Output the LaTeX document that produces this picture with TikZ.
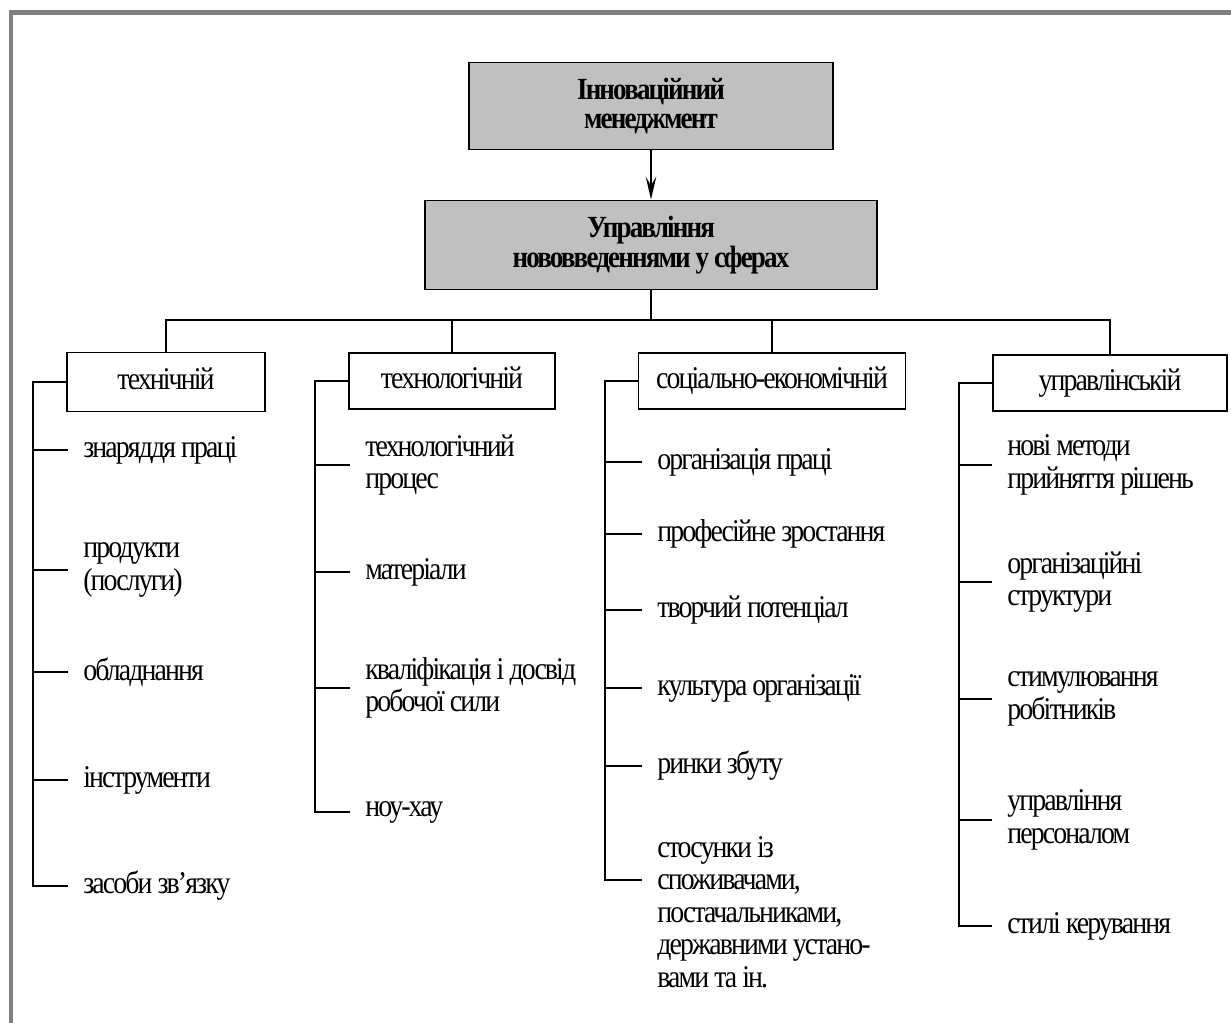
\documentclass[tikz,border=0pt]{standalone}
\usepackage{fontspec}
\setmainfont{Liberation Serif}[FakeStretch=0.88, LetterSpace=-6.0]
\usetikzlibrary{arrows.meta}

\definecolor{headgray}{RGB}{192,192,192}
\definecolor{framegray}{RGB}{128,128,128}

\tikzset{
  headbox/.style={draw, fill=headgray, line width=1.1pt, align=center,
    font=\fontsize{17.5}{17}\selectfont\bfseries, inner sep=0pt},
  areabox/.style={draw, line width=1.1pt, inner sep=0pt, minimum height=1.12cm,
    text height=12pt, text depth=3.5pt},
  item/.style={anchor=west, align=left, inner xsep=0.3cm, inner ysep=0pt},
  link/.style={line width=1.1pt},
}

\begin{document}
\begin{tikzpicture}[x=0.02cm, y=-0.02cm, font=\fontsize{18}{18.5}\selectfont]
  \useasboundingbox (0,0) rectangle (1231,1023);
  % frame
  \fill[framegray] (9,10) rectangle (1231,15);
  \fill[framegray] (9,10) rectangle (12.5,1023);

  \node[headbox, minimum width=7.28cm, minimum height=1.74cm] (m1) at (651,106) {Інноваційний\\менеджмент};
  \node[headbox, minimum width=9.04cm, minimum height=1.78cm] (m2) at (651,245) {Управління\\нововведеннями у сферах};

  \node[areabox, minimum width=3.96cm, minimum height=1.18cm] (t1) at (166,382) {технічній};
  \node[areabox, minimum width=4.12cm] (t2) at (452,381) {технологічній};
  \node[areabox, minimum width=5.34cm] (t3) at (772,381) {соціально-економічній};
  \node[areabox, minimum width=4.68cm] (t4) at (1110,383) {управлінській};

  % technical
  \node[item] (a1) at (68,450) {знаряддя праці};
  \node[item] (a2) at (68,570) {продукти\\(послуги)};
  \node[item] (a3) at (68,672) {обладнання};
  \node[item] (a4) at (68,780) {інструменти};
  \node[item] (a5) at (68,886) {засоби зв’язку};

  % technological
  \node[item] (b1) at (350,465) {технологічний\\процес};
  \node[item] (b2) at (350,572) {матеріали};
  \node[item] (b3) at (350,688) {кваліфікація і досвід\\робочої сили};
  \node[item] (b4) at (350,812) {ноу-хау};

  % social-economic
  \node[item] (c1) at (642,462) {організація праці};
  \node[item] (c2) at (642,534) {професійне зростання};
  \node[item] (c3) at (642,610) {творчий потенціал};
  \node[item] (c4) at (642,688) {культура організації};
  \node[item] (c5) at (642,766) {ринки збуту};
  \node[item] (c6) at (642,912) {стосунки із\\споживачами,\\постачальниками,\\державними устано-\\вами та ін.};

  % management
  \node[item] (d1) at (992,465) {нові методи\\прийняття рішень};
  \node[item] (d2) at (992,582) {організаційні\\структури};
  \node[item] (d3) at (992,699) {стимулювання\\робітників};
  \node[item] (d4) at (992,820) {управління\\персоналом};
  \node[item] (d5) at (992,926) {стилі керування};

  \coordinate (bus) at (651,320);

  \draw[link, -{Stealth[length=13pt, width=6pt, inset=5pt]}] (m1.south) -- (m2.north);
  \draw[link] (m2.south) -- (m2.south |- bus);
  \draw[link] (t1.north) |- (t4.north |- bus) -- (t4.north);
  \foreach \n in {t2,t3}
    \draw[link] (\n.north) -- (\n.north |- bus);

  \draw[link] (t1.west) -- ++(-33,0) coordinate (s1) |- (a5.west);
  \foreach \i in {1,...,4}
    \draw[link] (s1 |- a\i.west) -- (a\i.west);

  \draw[link] (t2.west) -- ++(-33,0) coordinate (s2) |- (b4.west);
  \foreach \i in {1,...,3}
    \draw[link] (s2 |- b\i.west) -- (b\i.west);

  \draw[link] (t3.west) -- ++(-33,0) coordinate (s3) |- ([yshift=0.64cm]c6.west);
  \foreach \i in {1,...,5}
    \draw[link] (s3 |- c\i.west) -- (c\i.west);

  \draw[link] (t4.west) -- ++(-33,0) coordinate (s4) |- (d5.west);
  \foreach \i in {1,...,4}
    \draw[link] (s4 |- d\i.west) -- (d\i.west);
\end{tikzpicture}
\end{document}
